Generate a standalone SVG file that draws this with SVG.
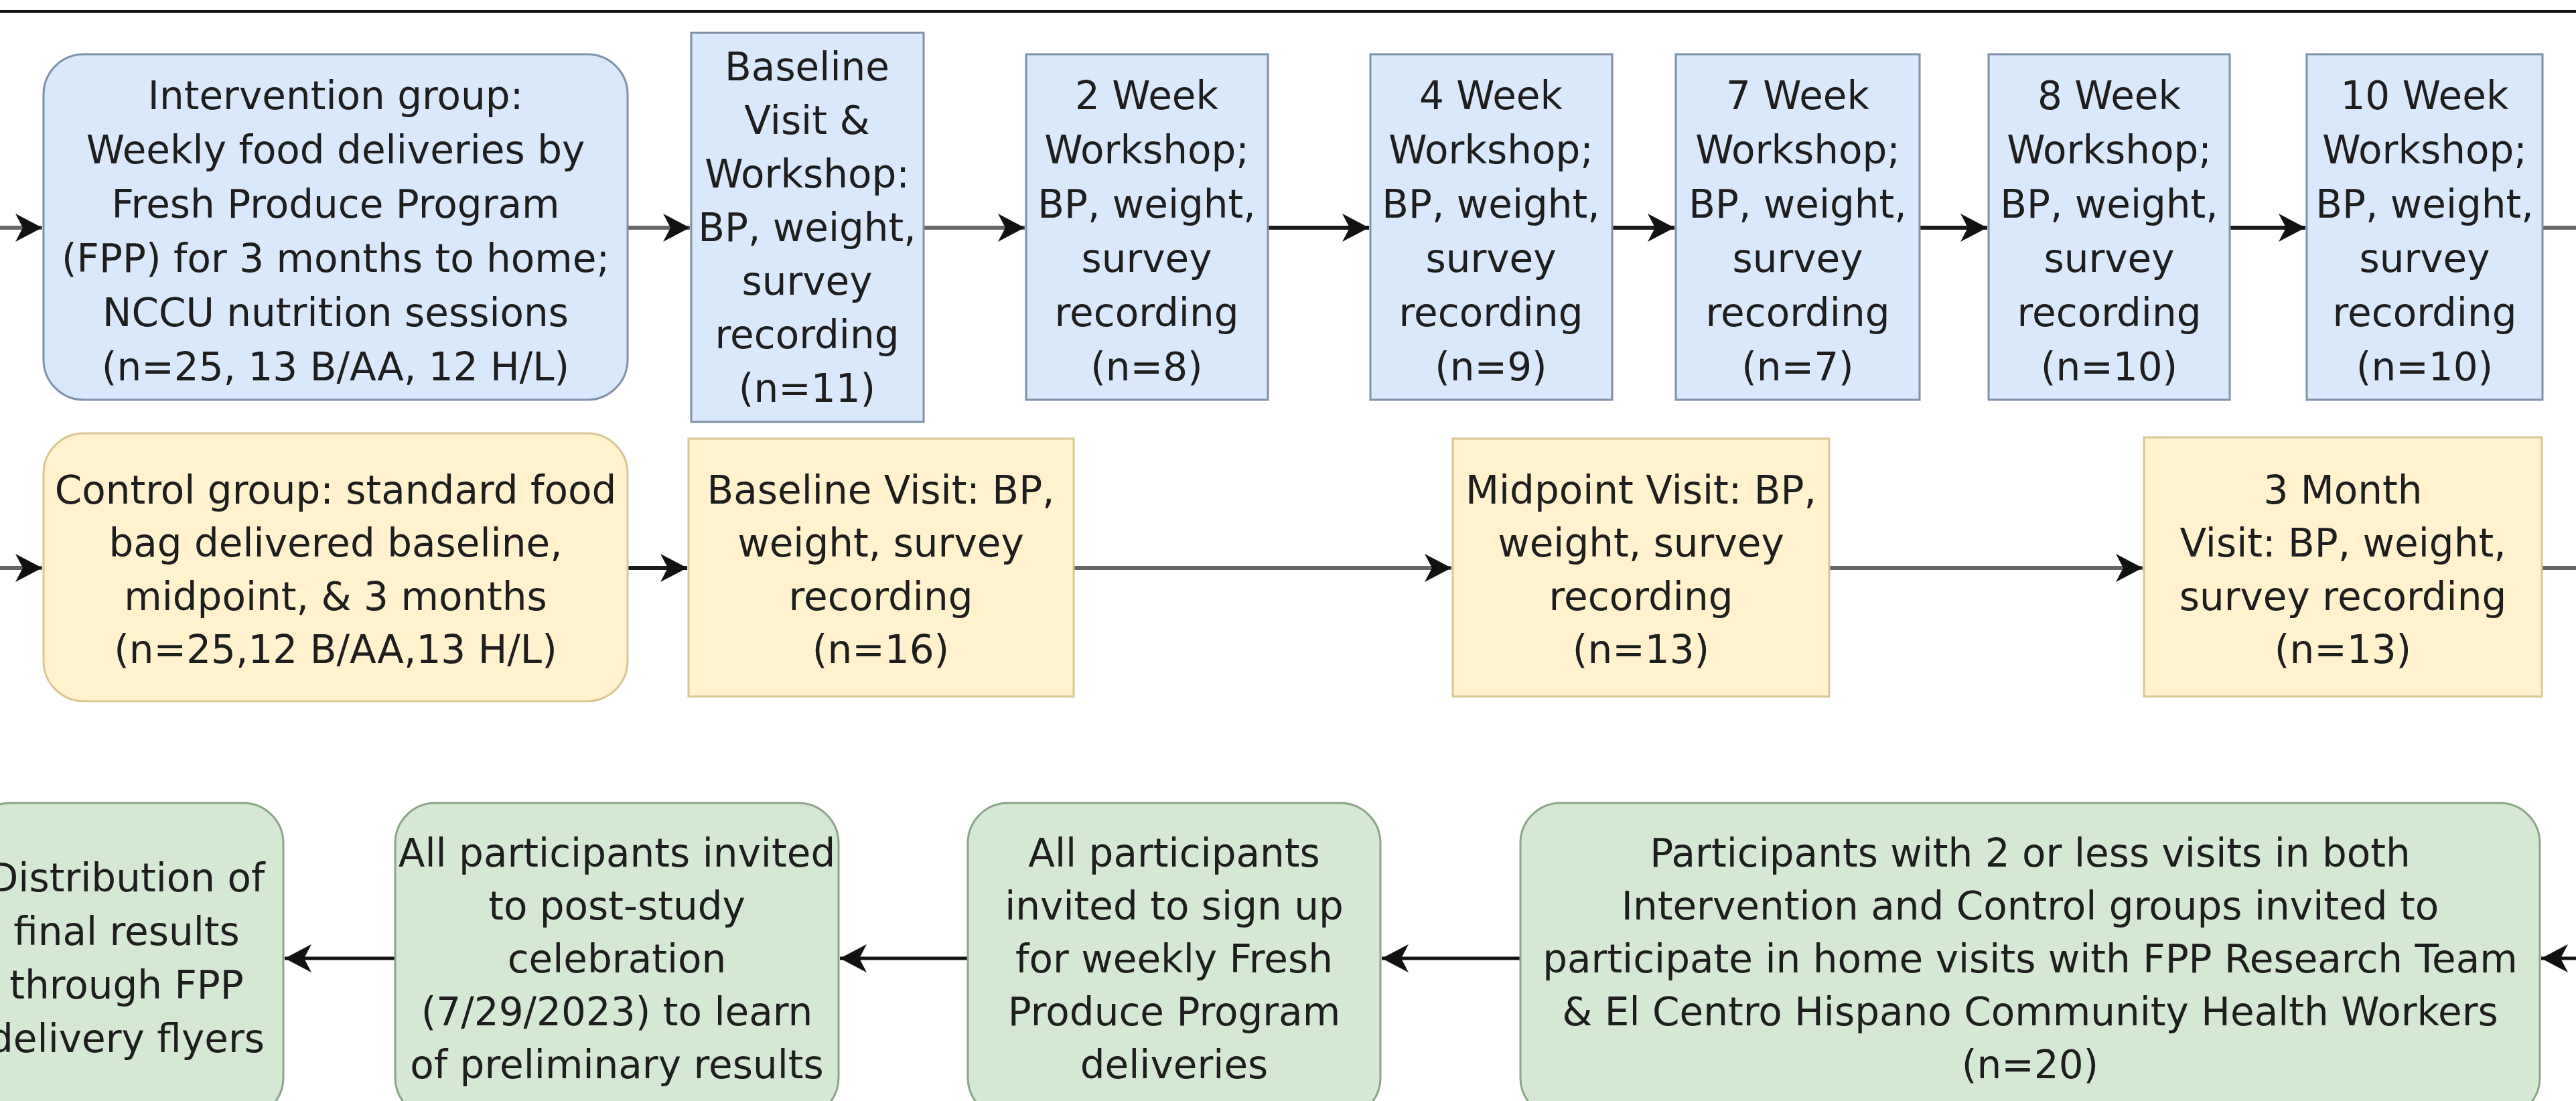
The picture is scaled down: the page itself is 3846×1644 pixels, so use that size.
<svg xmlns="http://www.w3.org/2000/svg" width="3846" height="1644" viewBox="0 0 3846 1644">
<style>
text{font-family:"DejaVu Sans","Liberation Sans",sans-serif;font-size:58px;fill:#1e1e1e;text-anchor:middle}
.blue{fill:#dae8fc;stroke:#7f91aa;stroke-width:3}
.yel{fill:#fff2cc;stroke:#d8c693;stroke-width:3}
.grn{fill:#d5e8d4;stroke:#8ba587;stroke-width:3}
.cd{fill:none;stroke:#1a1a1a;stroke-width:6}
.cg{fill:none;stroke:#666;stroke-width:6}
.cb{fill:none;stroke:#111;stroke-width:5}
</style>
<defs>
<marker id="ah" markerUnits="userSpaceOnUse" markerWidth="42" markerHeight="44" refX="40" refY="21" orient="auto" viewBox="0 0 42 44">
<path d="M0,0 L40,21 L0,42 L11,21 Z" fill="#111"/>
</marker>
</defs>
<rect width="3846" height="1644" fill="#ffffff"/>
<line x1="0" y1="17" x2="3846" y2="17" stroke="#111" stroke-width="4"/>

<g id="connectors">
<line class="cg" x1="0" y1="340" x2="63" y2="340" marker-end="url(#ah)"/>
<line class="cg" x1="937" y1="340" x2="1030" y2="340" marker-end="url(#ah)"/>
<line class="cg" x1="1379" y1="340" x2="1530" y2="340" marker-end="url(#ah)"/>
<line class="cd" x1="1893" y1="340" x2="2044" y2="340" marker-end="url(#ah)"/>
<line class="cd" x1="2407" y1="340" x2="2500" y2="340" marker-end="url(#ah)"/>
<line class="cd" x1="2866" y1="340" x2="2967" y2="340" marker-end="url(#ah)"/>
<line class="cd" x1="3329" y1="340" x2="3442" y2="340" marker-end="url(#ah)"/>
<line class="cg" x1="3796" y1="340" x2="3846" y2="340"/>
<line class="cg" x1="0" y1="848" x2="63" y2="848" marker-end="url(#ah)"/>
<line class="cd" x1="937" y1="848" x2="1026" y2="848" marker-end="url(#ah)"/>
<line class="cg" x1="1603" y1="848" x2="2167" y2="848" marker-end="url(#ah)"/>
<line class="cg" x1="2731" y1="848" x2="3199" y2="848" marker-end="url(#ah)"/>
<line class="cg" x1="3795" y1="848" x2="3846" y2="848"/>
<line class="cb" x1="3846" y1="1431" x2="3794" y2="1431" marker-end="url(#ah)"/>
<line class="cb" x1="2270" y1="1431" x2="2063" y2="1431" marker-end="url(#ah)"/>
<line class="cb" x1="1445" y1="1431" x2="1254" y2="1431" marker-end="url(#ah)"/>
<line class="cb" x1="590" y1="1431" x2="425" y2="1431" marker-end="url(#ah)"/>
</g>

<g id="intervention">
<rect class="blue" x="65" y="81" width="872" height="516" rx="60"/>
<text x="501" y="163">Intervention group:</text>
<text x="501" y="244">Weekly food deliveries by</text>
<text x="501" y="325">Fresh Produce Program</text>
<text x="501" y="406">(FPP) for 3 months to home;</text>
<text x="501" y="487">NCCU nutrition sessions</text>
<text x="501" y="568">(n=25, 13 B/AA, 12 H/L)</text>
</g>
<g id="baseline-workshop">
<rect class="blue" x="1032" y="49" width="347" height="581"/>
<text x="1205" y="120">Baseline</text>
<text x="1205" y="200">Visit &amp;</text>
<text x="1205" y="280">Workshop:</text>
<text x="1205" y="360">BP, weight,</text>
<text x="1205" y="440">survey</text>
<text x="1205" y="520">recording</text>
<text x="1205" y="600">(n=11)</text>
</g>
<g id="week2">
<rect class="blue" x="1532" y="81" width="361" height="516"/>
<text x="1712" y="163">2 Week</text>
<text x="1712" y="244">Workshop;</text>
<text x="1712" y="325">BP, weight,</text>
<text x="1712" y="406">survey</text>
<text x="1712" y="487">recording</text>
<text x="1712" y="568">(n=8)</text>
</g>
<g id="week4">
<rect class="blue" x="2046" y="81" width="361" height="516"/>
<text x="2226" y="163">4 Week</text>
<text x="2226" y="244">Workshop;</text>
<text x="2226" y="325">BP, weight,</text>
<text x="2226" y="406">survey</text>
<text x="2226" y="487">recording</text>
<text x="2226" y="568">(n=9)</text>
</g>
<g id="week7">
<rect class="blue" x="2502" y="81" width="364" height="516"/>
<text x="2684" y="163">7 Week</text>
<text x="2684" y="244">Workshop;</text>
<text x="2684" y="325">BP, weight,</text>
<text x="2684" y="406">survey</text>
<text x="2684" y="487">recording</text>
<text x="2684" y="568">(n=7)</text>
</g>
<g id="week8">
<rect class="blue" x="2969" y="81" width="360" height="516"/>
<text x="3149" y="163">8 Week</text>
<text x="3149" y="244">Workshop;</text>
<text x="3149" y="325">BP, weight,</text>
<text x="3149" y="406">survey</text>
<text x="3149" y="487">recording</text>
<text x="3149" y="568">(n=10)</text>
</g>
<g id="week10">
<rect class="blue" x="3444" y="81" width="352" height="516"/>
<text x="3620" y="163">10 Week</text>
<text x="3620" y="244">Workshop;</text>
<text x="3620" y="325">BP, weight,</text>
<text x="3620" y="406">survey</text>
<text x="3620" y="487">recording</text>
<text x="3620" y="568">(n=10)</text>
</g>

<g id="control">
<rect class="yel" x="65" y="647" width="872" height="400" rx="60"/>
<text x="501" y="752">Control group: standard food</text>
<text x="501" y="831">bag delivered baseline,</text>
<text x="501" y="911">midpoint, &amp; 3 months</text>
<text x="501" y="990">(n=25,12 B/AA,13 H/L)</text>
</g>
<g id="baseline-visit">
<rect class="yel" x="1028" y="655" width="575" height="385"/>
<text x="1315" y="752">Baseline Visit: BP,</text>
<text x="1315" y="831">weight, survey</text>
<text x="1315" y="911">recording</text>
<text x="1315" y="990">(n=16)</text>
</g>
<g id="midpoint-visit">
<rect class="yel" x="2169" y="655" width="562" height="385"/>
<text x="2450" y="752">Midpoint Visit: BP,</text>
<text x="2450" y="831">weight, survey</text>
<text x="2450" y="911">recording</text>
<text x="2450" y="990">(n=13)</text>
</g>
<g id="month3-visit">
<rect class="yel" x="3201" y="653" width="594" height="387"/>
<text x="3498" y="752">3 Month</text>
<text x="3498" y="831">Visit: BP, weight,</text>
<text x="3498" y="911">survey recording</text>
<text x="3498" y="990">(n=13)</text>
</g>

<g id="distribution">
<rect class="grn" x="-45" y="1199" width="468" height="470" rx="60"/>
<text x="189" y="1331">Distribution of</text>
<text x="189" y="1411">final results</text>
<text x="189" y="1491">through FPP</text>
<text x="189" y="1571">delivery flyers</text>
</g>
<g id="celebration">
<rect class="grn" x="590" y="1199" width="662" height="470" rx="60"/>
<text x="921" y="1294">All participants invited</text>
<text x="921" y="1373">to post-study</text>
<text x="921" y="1452">celebration</text>
<text x="921" y="1531">(7/29/2023) to learn</text>
<text x="921" y="1610">of preliminary results</text>
</g>
<g id="signup">
<rect class="grn" x="1445" y="1199" width="616" height="470" rx="60"/>
<text x="1753" y="1294">All participants</text>
<text x="1753" y="1373">invited to sign up</text>
<text x="1753" y="1452">for weekly Fresh</text>
<text x="1753" y="1531">Produce Program</text>
<text x="1753" y="1610">deliveries</text>
</g>
<g id="home-visits">
<rect class="grn" x="2270" y="1199" width="1522" height="470" rx="60"/>
<text x="3031" y="1294">Participants with 2 or less visits in both</text>
<text x="3031" y="1373">Intervention and Control groups invited to</text>
<text x="3031" y="1452">participate in home visits with FPP Research Team</text>
<text x="3031" y="1531">&amp; El Centro Hispano Community Health Workers</text>
<text x="3031" y="1610">(n=20)</text>
</g>
</svg>
